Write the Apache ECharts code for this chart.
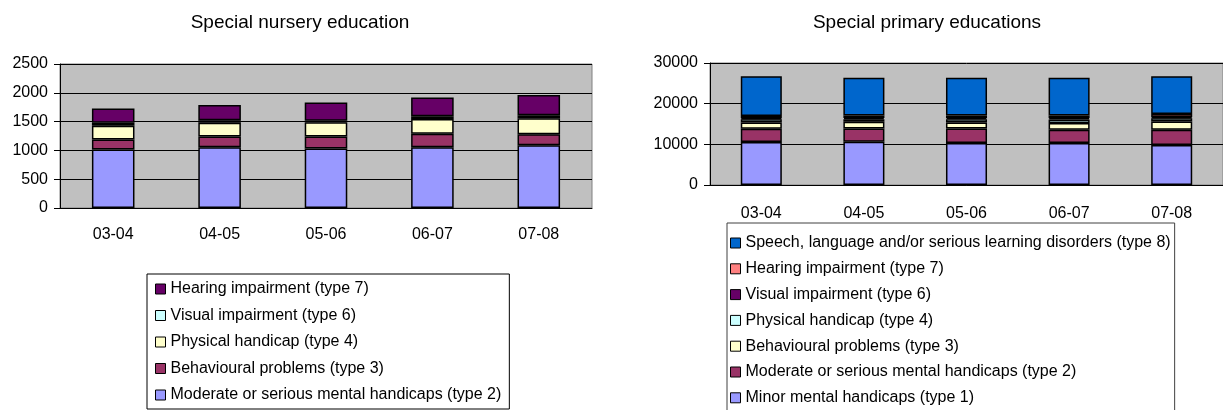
<!DOCTYPE html>
<html>
<head>
<meta charset="utf-8">
<title>Special education</title>
<script src="https://cdn.jsdelivr.net/npm/echarts@6/dist/echarts.min.js"></script>
<style>
  html, body { margin: 0; padding: 0; background: #fff; }
  #chart { width: 1223px; height: 410px; }
</style>
</head>
<body>
<div id="chart"></div>
<script>
  // school years
  const categories = ['03-04', '04-05', '05-06', '06-07', '07-08'];

  // special nursery education
  const nurseryModerate = [1015, 1056, 1033, 1056, 1090];
  const nurseryBehavioural = [174, 185, 208, 231, 190];
  const nurseryPhysical = [237, 237, 249, 256, 280];
  const nurseryVisual = [55, 47, 25, 52, 50];
  const nurseryHearing = [245, 265, 318, 325, 350];

  // special primary education
  const primaryMinor = [10600, 10635, 10317, 10317, 9840];
  const primaryModerate = [3250, 3255, 3570, 3255, 3730];
  const primaryBehavioural = [1500, 1665, 1510, 1665, 2065];
  const primaryPhysical = [800, 635, 795, 900, 780];
  const primaryVisual = [250, 300, 300, 300, 250];
  const primaryHearing = [550, 570, 575, 625, 795];
  const primarySpeech = [9800, 9290, 9285, 9285, 9285];

  const nurseryTicks = [0, 500, 1000, 1500, 2000, 2500];
  const primaryTicks = [0, 10000, 20000, 30000];

  const font = 'Liberation Sans, Arial, sans-serif';

  // series names carry a prefix so both legends stay apart
  function bar(name, data, color, idx) {
    return {
      name: name,
      type: 'bar',
      stack: 's' + idx,
      xAxisIndex: idx,
      yAxisIndex: idx,
      barWidth: '40%',
      data: data,
      itemStyle: { color: color, borderColor: '#000', borderWidth: 1.5 }
    }
  }

  const nurserySeries = [
    bar('a|Moderate or serious mental handicaps (type 2)', nurseryModerate, '#9999ff', 0),
    bar('a|Behavioural problems (type 3)', nurseryBehavioural, '#993366', 0),
    bar('a|Physical handicap (type 4)', nurseryPhysical, '#ffffcc', 0),
    bar('a|Visual impairment (type 6)', nurseryVisual, '#ccffff', 0),
    bar('a|Hearing impairment (type 7)', nurseryHearing, '#660066', 0)
  ];
  const primarySeries = [
    bar('b|Minor mental handicaps (type 1)', primaryMinor, '#9999ff', 1),
    bar('b|Moderate or serious mental handicaps (type 2)', primaryModerate, '#993366', 1),
    bar('b|Behavioural problems (type 3)', primaryBehavioural, '#ffffcc', 1),
    bar('b|Physical handicap (type 4)', primaryPhysical, '#ccffff', 1),
    bar('b|Visual impairment (type 6)', primaryVisual, '#660066', 1),
    bar('b|Hearing impairment (type 7)', primaryHearing, '#ff8080', 1),
    bar('b|Speech, language and/or serious learning disorders (type 8)', primarySpeech, '#0066cc', 1)
  ];

  function xAxis(idx, margin) {
    return {
      type: 'category',
      gridIndex: idx,
      data: categories,
      axisLine: { lineStyle: { color: '#000', width: 1 } },
      axisTick: { length: 5, lineStyle: { color: '#000' } },
      axisLabel: { color: '#000', fontSize: 16, fontFamily: font, margin: margin }
    }
  }
  function yAxis(idx, ticks) {
    return {
      type: 'value',
      gridIndex: idx,
      min: ticks[0],
      max: ticks[ticks.length - 1],
      interval: ticks[1] - ticks[0],
      axisLine: { show: true, lineStyle: { color: '#000', width: 1 } },
      axisTick: { show: true, length: 6, lineStyle: { color: '#000' } },
      axisLabel: { color: '#000', fontSize: 16, fontFamily: font, margin: 12,
        formatter: v => String(v) },
      splitLine: { show: true, lineStyle: { color: '#000', width: 1 } }
    }
  }
  function legend(series, left, top, padding, gap, border) {
    return {
      orient: 'vertical',
      left: left,
      top: top,
      height: 260,
      data: series.map(s => s.name).reverse(),
      formatter: name => name.slice(2),
      icon: 'rect',
      itemWidth: 10,
      itemHeight: 10,
      itemGap: gap,
      padding: padding,
      selectedMode: false,
      backgroundColor: '#fff',
      borderColor: border,
      borderWidth: 1,
      borderRadius: 0,
      itemStyle: { borderColor: '#000', borderWidth: 1 },
      textStyle: { color: '#000', fontSize: 16, fontFamily: font, lineHeight: 18 }
    }
  }

  let chart = echarts.init(document.getElementById('chart'), null, { renderer: 'canvas' });
  chart.setOption({
    animation: false,
    title: [
      { text: 'Special nursery education', left: 300, top: 13, textAlign: 'center', padding: 0,
        textStyle: { fontSize: 19, fontWeight: 'normal', color: '#000', fontFamily: font } },
      { text: 'Special primary educations', left: 927, top: 13, textAlign: 'center', padding: 0,
        textStyle: { fontSize: 19, fontWeight: 'normal', color: '#000', fontFamily: font } }
    ],
    grid: [
      { left: 60, right: 631, top: 64, bottom: 202, show: true, backgroundColor: '#c0c0c0', borderColor: '#808080', borderWidth: 1 },
      { left: 710, right: -8, top: 63, bottom: 225, show: true, backgroundColor: '#c0c0c0', borderColor: '#808080', borderWidth: 1 }
    ],
    xAxis: [xAxis(0, 19), xAxis(1, 21)],
    yAxis: [yAxis(0, nurseryTicks), yAxis(1, primaryTicks)],
    legend: [
      legend(nurserySeries, 147, 274, [6, 8, 5, 8], 8.5, '#000'),
      legend(primarySeries, 727, 223, [11, 4, 8, 3], 7.8, '#404040')
    ],
    series: nurserySeries.concat(primarySeries)
  });
</script>
</body>
</html>
